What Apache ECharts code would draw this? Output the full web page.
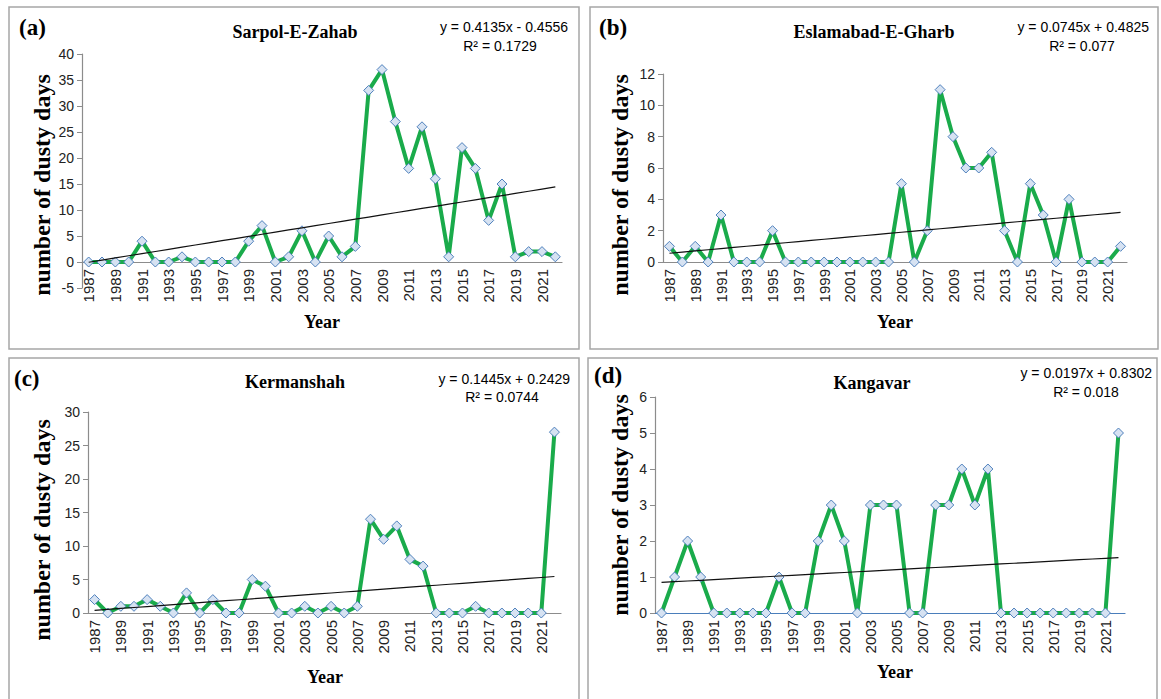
<!DOCTYPE html>
<html>
<head>
<meta charset="utf-8">
<title>Dusty days</title>
<script src="https://cdn.jsdelivr.net/npm/echarts@6/dist/echarts.min.js"></script>
<style>
html, body { margin: 0; padding: 0; background: #ffffff; }
#chart { width: 1161px; height: 699px; }
</style>
</head>
<body>
<div id="chart"></div>
<script>
// Years on the category axis
const years = ['1987','1988','1989','1990','1991','1992','1993','1994','1995','1996',
  '1997','1998','1999','2000','2001','2002','2003','2004','2005','2006',
  '2007','2008','2009','2010','2011','2012','2013','2014','2015','2016',
  '2017','2018','2019','2020','2021','2022'];

// Annual number of dusty days per station
const sarpolDays    = [0,0,0,0,4,0,0,1,0,0,0,0,4,7,0,1,6,0,5,1,3,33,37,27,18,26,16,1,22,18,8,15,1,2,2,1];
const eslamabadDays = [1,0,1,0,3,0,0,0,2,0,0,0,0,0,0,0,0,0,5,0,2,11,8,6,6,7,2,0,5,3,0,4,0,0,0,1];
const kermanshahDays = [2,0,1,1,2,1,0,3,0,2,0,0,5,4,0,0,1,0,1,0,1,14,11,13,8,7,0,0,0,1,0,0,0,0,0,27];
const kangavarDays  = [0,1,2,1,0,0,0,0,0,1,0,0,2,3,2,0,3,3,3,0,0,3,3,4,3,4,0,0,0,0,0,0,0,0,0,5];

// Linear trend coefficients [slope, intercept] and R² (x = 1..36)
const sarpolTrend     = [0.4135, -0.4556];
const eslamabadTrend  = [0.0745, 0.4825];
const kermanshahTrend = [0.1445, 0.2429];
const kangavarTrend   = [0.0197, 0.8302];
const r2Values = ['0.1729', '0.077', '0.0744', '0.018'];

// Y-axis ranges [min, max, interval]
const sarpolRange     = [-5, 40, 5];
const eslamabadRange  = [0, 12, 2];
const kermanshahRange = [0, 30, 5];
const kangavarRange   = [0, 6, 1];

const stationNames = ['Sarpol-E-Zahab', 'Eslamabad-E-Gharb', 'Kermanshah', 'Kangavar'];
const panelLetters = ['(a)', '(b)', '(c)', '(d)'];

function eqText(t) {
  const sign = t[1] < 0 ? '- ' : '+ ';
  return 'y = ' + t[0] + 'x ' + sign + Math.abs(t[1]);
}

const panels = [
  { name: stationNames[0], letter: panelLetters[0], data: sarpolDays, trend: sarpolTrend, r2: r2Values[0], range: sarpolRange,
    frame: [9, 7, 570, 342], grid: { left: 82, top: 54, width: 480, height: 234 },
    letterPos: [19, 27], titlePos: [295, 32], eqPos: [568, 27], r2Pos: [500, 46], yNamePos: [42, 185], xNamePos: [322, 322], xLine: '#8c8c8c' },
  { name: stationNames[1], letter: panelLetters[1], data: eslamabadDays, trend: eslamabadTrend, r2: r2Values[1], range: eslamabadRange,
    frame: [590, 7, 568, 342], grid: { left: 663, top: 74, width: 464, height: 188 },
    letterPos: [599, 27], titlePos: [874, 32], eqPos: [1149, 27], r2Pos: [1082, 46], yNamePos: [620, 185], xNamePos: [895, 322], xLine: '#8c8c8c' },
  { name: stationNames[2], letter: panelLetters[2], data: kermanshahDays, trend: kermanshahTrend, r2: r2Values[2], range: kermanshahRange,
    frame: [9, 358, 570, 345], grid: { left: 88, top: 412, width: 473, height: 201 },
    letterPos: [14, 378], titlePos: [295, 382], eqPos: [570, 379], r2Pos: [502, 397], yNamePos: [42, 530], xNamePos: [325, 677], xLine: '#8c8c8c' },
  { name: stationNames[3], letter: panelLetters[3], data: kangavarDays, trend: kangavarTrend, r2: r2Values[3], range: kangavarRange,
    frame: [588, 358, 569, 345], grid: { left: 655, top: 397, width: 470, height: 216 },
    letterPos: [594, 375], titlePos: [872, 383], eqPos: [1152, 373], r2Pos: [1086, 392], yNamePos: [620, 505], xNamePos: [895, 672], xLine: '#4a7ebb' }
];

const serif = '"Liberation Serif", "DejaVu Serif", serif';
const sans = 'Liberation Sans';

const grids = [], xAxes = [], yAxes = [], series = [], graphics = [];

panels.forEach(function (p, i) {
  grids.push(Object.assign({ containLabel: false }, p.grid));

  // Category axis sits on the zero line of the value axis
  const zeroOffset = -p.grid.height * (0 - p.range[0]) / (p.range[1] - p.range[0]);

  xAxes.push({
    type: 'category', gridIndex: i, data: years, boundaryGap: true,
    position: 'bottom', offset: zeroOffset,
    axisLine: { onZero: false, lineStyle: { color: p.xLine, width: 1.2 } },
    axisTick: { show: false },
    axisLabel: {
      rotate: 90, interval: 1, margin: 7,
      textStyle: { fontSize: 15, color: '#222222', fontFamily: sans },
      fontSize: 15, color: '#222222', fontFamily: sans
    },
    splitLine: { show: false }
  });

  yAxes.push({
    type: 'value', gridIndex: i, min: p.range[0], max: p.range[1], interval: p.range[2],
    axisLine: { show: true, lineStyle: { color: '#8c8c8c', width: 1.2 } },
    axisTick: { show: true, length: 5, lineStyle: { color: '#8c8c8c' } },
    axisLabel: { fontSize: 14, color: '#222222', fontFamily: sans, margin: 8 },
    splitLine: { show: false }
  });

  series.push({
    type: 'line', xAxisIndex: i, yAxisIndex: i, data: p.data,
    symbol: 'diamond', symbolSize: 10, showAllSymbol: true, z: 3,
    lineStyle: { color: '#1aab4b', width: 4 },
    itemStyle: { color: '#d6e2f2', borderColor: '#4f81bd', borderWidth: 1 },
    emphasis: { disabled: true }, animation: false
  });

  // Straight trend line from the fitted equation
  series.push({
    type: 'line', xAxisIndex: i, yAxisIndex: i,
    data: years.map(function (_, k) { return +(p.trend[0] * (k + 1) + p.trend[1]).toFixed(4); }),
    symbol: 'none', z: 4,
    lineStyle: { color: '#111111', width: 1.2 },
    emphasis: { disabled: true }, animation: false
  });

  graphics.push({
    type: 'rect', shape: { x: p.frame[0], y: p.frame[1], width: p.frame[2], height: p.frame[3] },
    style: { fill: 'none', stroke: '#a6a6a6', lineWidth: 1.5 }, z: 0
  });
  graphics.push({
    type: 'text', x: p.letterPos[0], y: p.letterPos[1],
    style: { text: p.letter, font: 'bold 23px ' + serif, fill: '#000', align: 'left', verticalAlign: 'middle' }
  });
  graphics.push({
    type: 'text', x: p.titlePos[0], y: p.titlePos[1],
    style: { text: p.name, font: 'bold 18px ' + serif, fill: '#000', align: 'center', verticalAlign: 'middle' }
  });
  graphics.push({
    type: 'text', x: p.eqPos[0], y: p.eqPos[1],
    style: { text: eqText(p.trend), font: '14px "Liberation Sans"', fill: '#000', align: 'right', verticalAlign: 'middle' }
  });
  graphics.push({
    type: 'text', x: p.r2Pos[0], y: p.r2Pos[1],
    style: { text: 'R² = ' + p.r2, font: '14px "Liberation Sans"', fill: '#000', align: 'center', verticalAlign: 'middle' }
  });
  graphics.push({
    type: 'text', x: p.yNamePos[0], y: p.yNamePos[1], rotation: Math.PI / 2,
    style: { text: 'number of dusty days', font: 'bold 24px ' + serif, fill: '#000', align: 'center', verticalAlign: 'middle' }
  });
  graphics.push({
    type: 'text', x: p.xNamePos[0], y: p.xNamePos[1],
    style: { text: 'Year', font: 'bold 18px ' + serif, fill: '#000', align: 'center', verticalAlign: 'middle' }
  });
});

const chart = echarts.init(document.getElementById('chart'), null, { renderer: 'svg' });
chart.setOption({
  backgroundColor: '#ffffff',
  animation: false,
  grid: grids,
  xAxis: xAxes,
  yAxis: yAxes,
  series: series,
  graphic: graphics
});
</script>
</body>
</html>
